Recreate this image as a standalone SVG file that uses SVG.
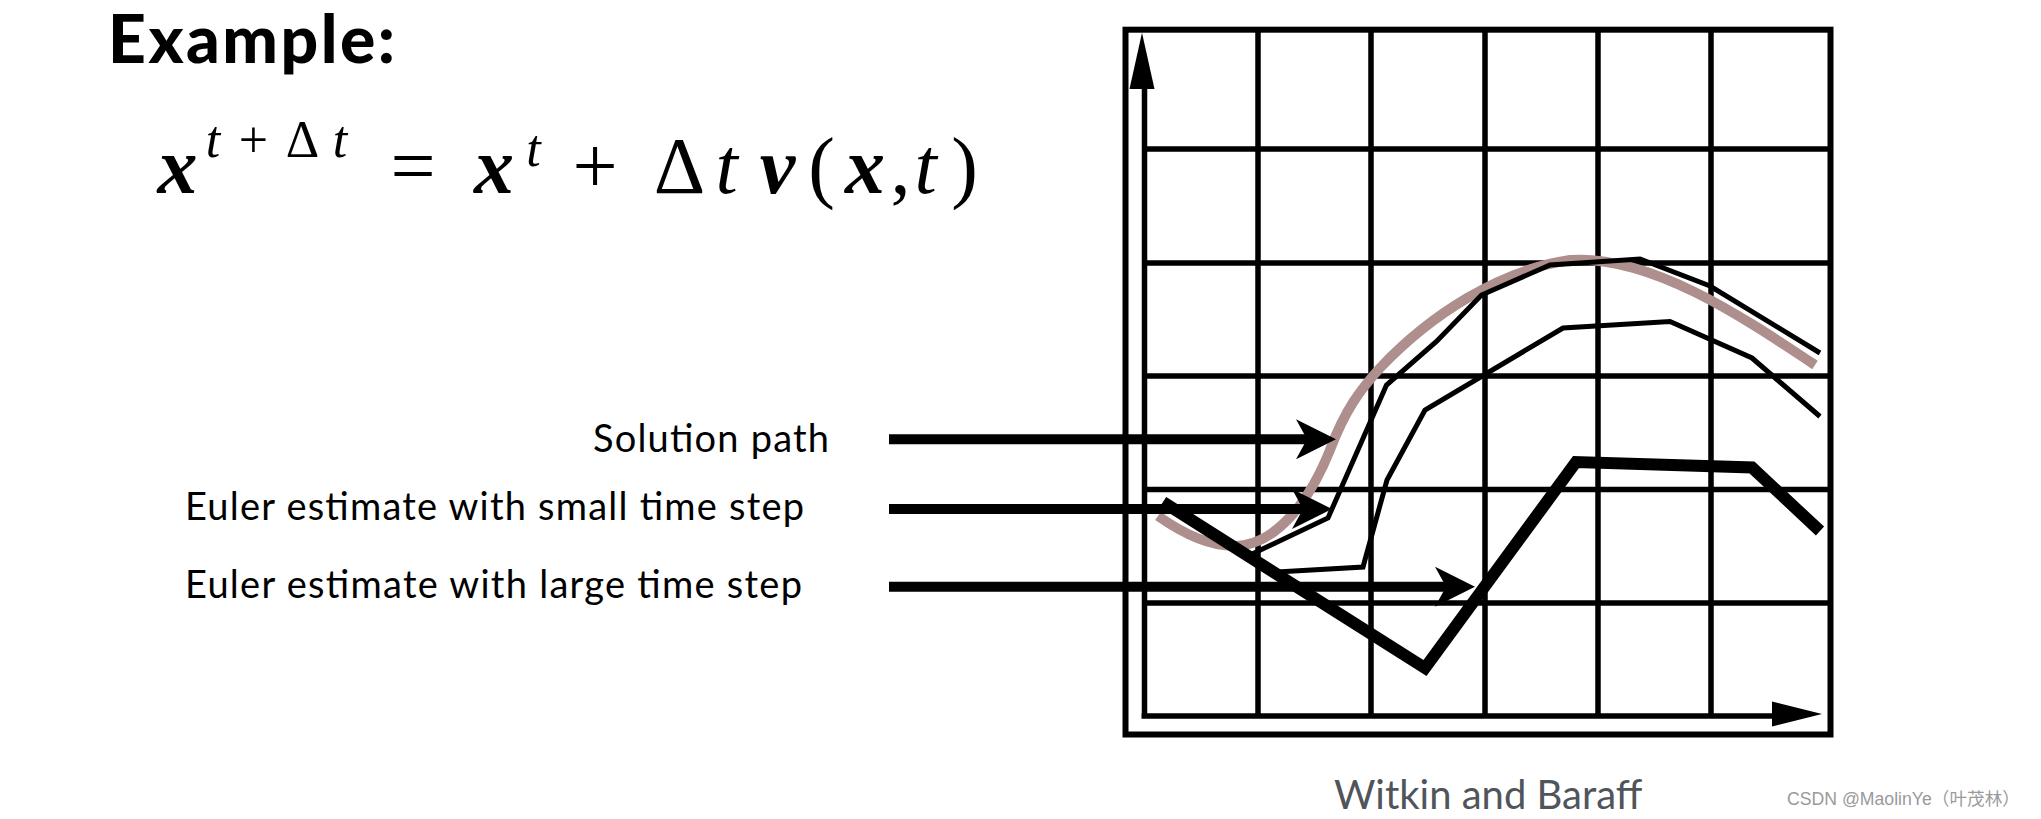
<svg xmlns="http://www.w3.org/2000/svg" width="2041" height="819" viewBox="0 0 2041 819">
<defs>
<style>
.lbl{font-family:Lato,"Open Sans","Liberation Sans",sans-serif;font-size:38px;fill:#000}
.title{font-family:Lato,"Liberation Sans",sans-serif;font-weight:900;font-size:66px;fill:#000}
.m{font-family:"Liberation Serif","DejaVu Serif",serif;font-size:80px;fill:#000}
.m text{text-anchor:middle}
.bi{font-weight:700;font-style:italic}
.it{font-style:italic}
.sup{font-size:52px}
.grid{stroke:#000;stroke-width:5.5;fill:none}
.thin{stroke:#000;stroke-width:5;fill:none;stroke-linejoin:miter}
.thick{stroke:#000;stroke-width:12;fill:none;stroke-linejoin:miter}
.sol{stroke:#af8e8e;stroke-width:10;fill:none}
.conn{stroke:#000;stroke-width:10;fill:none}
</style>
<marker id="ah" markerUnits="userSpaceOnUse" viewBox="0 0 40 40" markerWidth="40" markerHeight="40" refX="11" refY="20" orient="auto"><path d="M0,0 L40,20 L0,40 L11,20 Z" fill="#000"/></marker>
</defs>
<rect width="2041" height="819" fill="#fff"/>

<g id="title"><text class="title" x="108" y="63" textLength="287">Example:</text></g>

<g id="equation" class="m">
<text x="177.5" y="193" class="bi">x</text>
<text x="213" y="157" class="it sup">t</text>
<text x="253.5" y="157" class="sup">+</text>
<text x="302.5" y="157" class="sup">Δ</text>
<text x="340" y="157" class="it sup">t</text>
<text x="413" y="193">=</text>
<text x="494" y="193" class="bi">x</text>
<text x="533.5" y="166" class="it sup">t</text>
<text x="595" y="193">+</text>
<text x="679.5" y="193">Δ</text>
<text x="726.5" y="193" class="it">t</text>
<text x="777.5" y="193" class="bi">v</text>
<text x="821.5" y="193">(</text>
<text x="865" y="193" class="bi">x</text>
<text x="900.5" y="193">,</text>
<text x="925.5" y="193" class="it">t</text>
<text x="964.5" y="193">)</text>
</g>

<g id="labels">
<text class="lbl" x="593" y="452" textLength="236">Solution path</text>
<text class="lbl" x="185" y="520" textLength="619">Euler estimate with small time step</text>
<text class="lbl" x="185" y="598" textLength="617">Euler estimate with large time step</text>
</g>

<g id="chart">
<rect class="grid" x="1125.5" y="29.7" width="705" height="704.8" style="stroke-width:6"/>
<path class="grid" d="M1258,29.7V716 M1371,29.7V716 M1485,29.7V716 M1598,29.7V716 M1711,29.7V716 M1144,149H1830 M1144,263H1830 M1144,376H1830 M1144,489.5H1830 M1144,603H1830"/>
<path class="grid" d="M1144.5,716V88 M1141.5,716H1774"/>
<path d="M1142,32.7 L1154.5,89 L1129.5,89 Z" fill="#000"/>
<path d="M1822,714 L1772,701.5 L1772,726.5 Z" fill="#000"/>
</g>

<g id="curves">
<path id="solution" class="sol" d="M1158,516 C1185,535 1215,550 1245,545 C1280,538 1310,500 1330,450 C1345,410 1360,390 1380,368 C1430,315 1500,270 1570,260 C1650,255 1740,315 1815,365"/>
<path id="small-step" class="thin" d="M1163,503 L1250,555 L1328,518 L1386.5,385 L1436.5,341.5 L1481.5,295 L1550,265 L1640,259 L1710,286 L1820,353"/>
<path id="medium-step" class="thin" d="M1163,503 L1277,572 L1363,567 L1387,480 L1425,410 L1563,328 L1670,321.5 L1752,358 L1820,416.5"/>
<path id="large-step" class="thick" d="M1163,502 L1425,668 L1576,462 L1752,467.5 L1820,531"/>
</g>

<g id="connectors">
<path class="conn" d="M889,439.3H1307" marker-end="url(#ah)"/>
<path class="conn" d="M889,509H1303" marker-end="url(#ah)"/>
<path class="conn" d="M889,586.7H1446" marker-end="url(#ah)"/>
</g>

<g id="credit">
<text x="1334" y="809" style="font-family:Lato,'Open Sans','Liberation Sans',sans-serif;font-size:40px;fill:#50555b">Witkin and Baraff</text>
<text x="1787" y="805" textLength="233" lengthAdjust="spacingAndGlyphs" style="font-family:'Liberation Sans','Noto Sans CJK SC',sans-serif;font-size:17.5px;fill:#9a9a9a">CSDN @MaolinYe（叶茂林）</text>
</g>
</svg>
